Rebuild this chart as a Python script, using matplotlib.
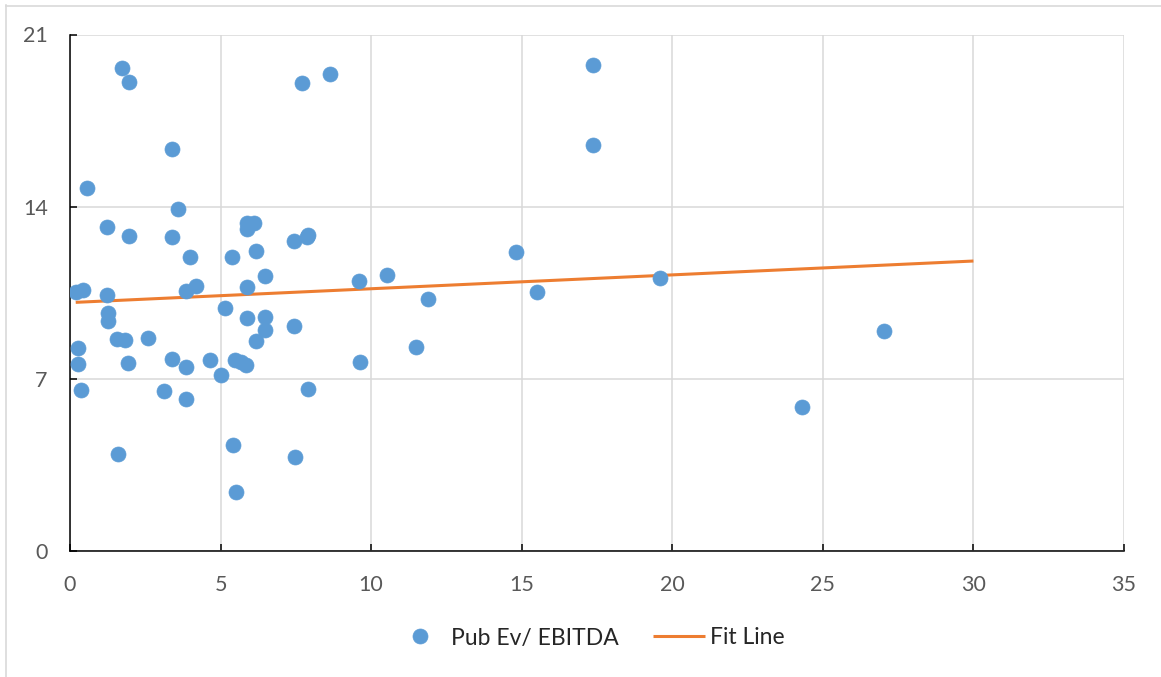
import matplotlib.pyplot as plt
from matplotlib.lines import Line2D

# public multiples: x vs Pub Ev/ EBITDA
pub_x = [1.72, 1.97, 3.38, 0.57, 3.60, 1.22, 1.97, 3.38, 3.98, 5.37,
         6.18, 6.48, 5.88, 6.12, 5.88, 7.45, 7.91, 7.87, 7.71, 8.64,
         5.88, 4.18, 3.84, 9.61, 0.19, 0.42, 1.22, 1.25, 1.25, 1.55,
         1.83, 2.60, 0.28, 0.28, 1.94, 3.38, 3.85, 4.65, 5.00, 5.48,
         5.68, 5.86, 5.15, 5.88, 6.48, 6.48, 6.18, 7.45, 0.36, 3.12,
         3.85, 7.91, 9.63, 1.59, 5.42, 7.46, 5.50, 10.52, 11.90, 11.49,
         14.81, 15.50, 17.38, 17.38, 19.60, 24.30, 27.02]
pub_ev_ebitda = [19.62, 19.05, 16.34, 14.74, 13.89, 13.16, 12.80, 12.75, 11.96, 11.96,
                 12.18, 11.18, 13.35, 13.32, 13.08, 12.59, 12.86, 12.75, 19.01, 19.38,
                 10.75, 10.79, 10.59, 10.99, 10.54, 10.61, 10.41, 9.66, 9.36, 8.62,
                 8.58, 8.67, 8.26, 7.59, 7.64, 7.79, 7.49, 7.75, 7.17, 7.75,
                 7.68, 7.56, 9.89, 9.48, 9.52, 8.98, 8.52, 9.16, 6.54, 6.50,
                 6.18, 6.60, 7.68, 3.94, 4.31, 3.83, 2.38, 11.23, 10.26, 8.28,
                 12.17, 10.54, 19.78, 16.50, 11.09, 5.87, 8.94]

# fit line end points
fit_x = [0.19, 30.0]
fit_y = [10.11, 11.79]

x_ticks = [0, 5, 10, 15, 20, 25, 30, 35]
y_ticks = [0, 7, 14, 21]

plt.rcParams['font.family'] = ['Lato', 'DejaVu Sans']

fig = plt.figure(figsize=(11.61, 6.77), dpi=100)
ax = fig.add_axes([70 / 1161, 1 - 551 / 677, (1124 - 70) / 1161, (551 - 34.5) / 677])

ax.plot(fit_x, fit_y, color='#ED7D31', lw=2.2, solid_capstyle='butt',
        label='Fit Line', zorder=2)
ax.plot(pub_x, pub_ev_ebitda, 'o', color='#5B9BD5', ms=10.8, mec='#5B9BD5',
        mew=0.5, label='Pub Ev/ EBITDA', zorder=3)

ax.set_xlim(0, 35)
ax.set_ylim(0, 21)
ax.set_xticks(x_ticks)
ax.set_yticks(y_ticks)
ax.grid(True, color='#D9D9D9', lw=1.1, zorder=0)
ax.set_axisbelow(True)

for side in ['top', 'right']:
    ax.spines[side].set_visible(False)
for side in ['left', 'bottom']:
    ax.spines[side].set_color('black')
    ax.spines[side].set_linewidth(1.1)

ax.tick_params(axis='both', direction='in', length=5, width=1.1, color='black',
               labelsize=15.5, labelcolor='#595959')
ax.tick_params(axis='x', pad=17)
ax.tick_params(axis='y', pad=16)

# legend below the axes, fit line listed second
handles, labels = ax.get_legend_handles_labels()
leg = fig.legend(handles[::-1], labels[::-1], loc='center',
                 bbox_to_anchor=(0.5073, 1 - 638 / 677), ncol=2, frameon=False,
                 fontsize=16.5, handlelength=2.3, handletextpad=0.2,
                 columnspacing=1.49, numpoints=1)
for t in leg.get_texts():
    t.set_color('#262626')

# light outer border of the chart area
fig.add_artist(Line2D([5.5 / 1161, 5.5 / 1161], [0, 1 - 5 / 677],
                      transform=fig.transFigure, color='#D9D9D9', lw=1.2))
fig.add_artist(Line2D([5.5 / 1161, 1], [1 - 5.5 / 677, 1 - 5.5 / 677],
                      transform=fig.transFigure, color='#D9D9D9', lw=1.2))

fig.savefig('out.png', dpi=100)
